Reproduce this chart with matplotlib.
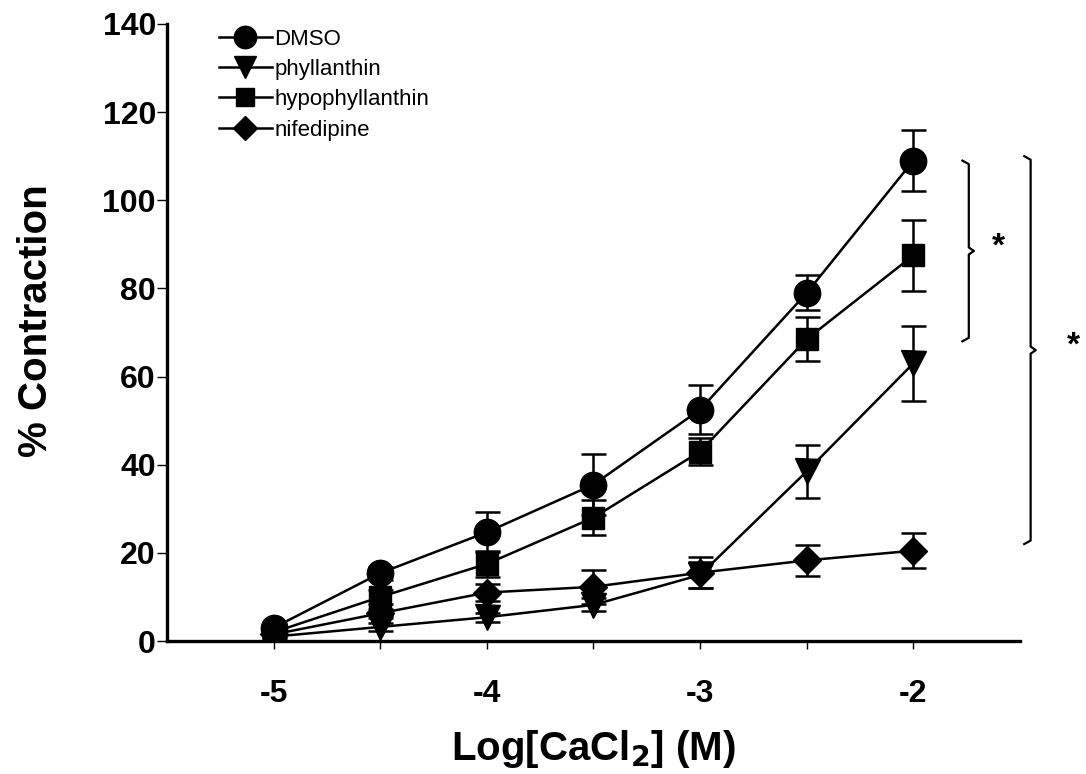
import numpy as np
import matplotlib.pyplot as plt

plt.rcParams['font.family'] = ['Liberation Sans', 'DejaVu Sans']

# data
log_ca = [-5, -4.5, -4, -3.5, -3, -2.5, -2]

dmso = [3, 15.4, 24.7, 35.5, 52.5, 79, 109]
dmso_err = [1, 1.5, 4.5, 7, 5.5, 4, 7]

phyll = [1, 3.2, 5.4, 8.2, 15, 38.5, 63]
phyll_err = [0.5, 1, 1, 1.5, 3, 6, 8.5]

hypo = [2, 10, 17.5, 28, 43, 68.5, 87.5]
hypo_err = [1, 1.5, 3, 4, 3, 5, 8]

nif = [1.5, 6.3, 11, 12.3, 15.5, 18.3, 20.5]
nif_err = [0.5, 1, 2, 3.8, 3.5, 3.5, 4]

series = [
    ("DMSO", dmso, dmso_err, "o", 19),
    ("phyllanthin", phyll, phyll_err, "v", 18),
    ("hypophyllanthin", hypo, hypo_err, "s", 16),
    ("nifedipine", nif, nif_err, "D", 14),
]

# significance brackets: (x, top, bottom, star x)
brackets = [(-1.74, 109, 68, -1.60), (-1.45, 110, 22, -1.25)]

fig = plt.figure(figsize=(10.86, 7.74), dpi=100)
ax = fig.add_axes([0.1538, 0.1718, 0.7854, 0.7972])

handles = []
names = []
for name, y, err, mk, ms in series:
    c = ax.errorbar(log_ca, y, yerr=err, color='black', marker=mk, markersize=ms,
                    linewidth=1.8, elinewidth=1.8, capsize=9, capthick=1.8)
    handles.append(c.lines[0])
    names.append(name)

# brackets with asterisks
for bx, top, bot, sx in brackets:
    mid = (top + bot) / 2
    h = 0.03
    ax.plot([bx - h, bx, bx, bx + h * 0.8, bx, bx, bx - h],
            [top, top - 0.8, mid + 0.8, mid, mid - 0.8, bot + 0.8, bot],
            color='black', linewidth=1.6, clip_on=False)
    ax.text(sx, mid + 1, "*", fontsize=24, fontweight='bold',
            ha='center', va='center', clip_on=False)

ax.set_xlim(-5.5, -1.5)
ax.set_ylim(0, 140)
ax.set_xticks(np.arange(-5, -1.9, 0.5))
ax.set_xticklabels(["-5", "", "-4", "", "-3", "", "-2"])
ax.set_yticks(np.arange(0, 141, 20))

for side in ['top', 'right']:
    ax.spines[side].set_visible(False)
for side in ['left', 'bottom']:
    ax.spines[side].set_linewidth(2.4)

ax.tick_params(axis='both', direction='out', width=1, labelsize=23)
ax.tick_params(axis='y', length=7, pad=1)
ax.tick_params(axis='x', length=6, pad=21)
for lab in ax.get_xticklabels() + ax.get_yticklabels():
    lab.set_fontweight('bold')

ax.set_ylabel("% Contraction", fontsize=29, fontweight='bold')
ax.yaxis.set_label_coords(-0.131, 0.52)
ax.set_xlabel(r"Log[CaCl$_\mathbf{2}$] (M)", fontsize=29, fontweight='bold',
              labelpad=14)

leg = ax.legend(handles, names, loc='upper left', bbox_to_anchor=(0.037, 1.025),
                frameon=False, fontsize=16, handlelength=2.4, handletextpad=0.1,
                labelspacing=0.42, markerscale=0.85)

fig.savefig("out.png", dpi=100)
